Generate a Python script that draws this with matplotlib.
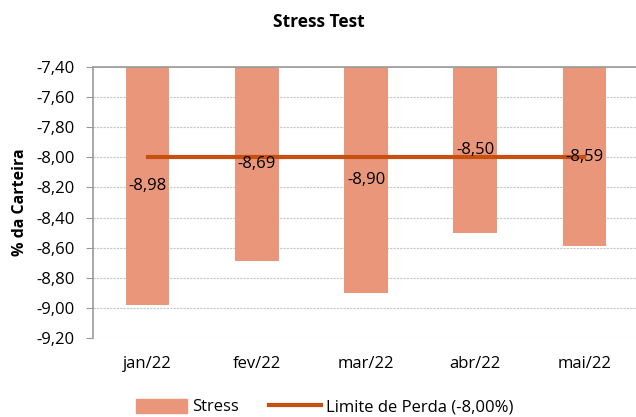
import matplotlib.pyplot as plt
from matplotlib.lines import Line2D
from matplotlib.patches import Patch

months = ['jan/22', 'fev/22', 'mar/22', 'abr/22', 'mai/22']
stress = [-8.98, -8.69, -8.90, -8.50, -8.59]
limite = [-8.00, -8.00, -8.00, -8.00, -8.00]
y_ticks = [-7.40, -7.60, -7.80, -8.00, -8.20, -8.40, -8.60, -8.80, -9.00, -9.20]

bar_color = '#EA967A'
line_color = '#C5500F'
font = 'Open Sans'


def fmt(v):
    return f'{v:.2f}'.replace('.', ',')


plt.rcParams['font.family'] = [font, 'DejaVu Sans']

fig = plt.figure(figsize=(6.36, 4.17), dpi=100)
ax = fig.add_axes([93 / 636, 1 - 338 / 417, 546 / 636, 271 / 417])

top = y_ticks[0]
x = list(range(len(months)))
ax.bar(x, [v - top for v in stress], bottom=top, width=0.4, color=bar_color, zorder=2)
ax.plot(x, limite, color=line_color, linewidth=3, zorder=3)

for i, v in enumerate(stress):
    ax.text(i, (v + top) / 2, fmt(v), ha='center', va='center', fontsize=12, color='black', zorder=4)

ax.set_xlim(-0.5, len(months) - 0.5)
ax.set_ylim(y_ticks[-1], y_ticks[0])
ax.set_yticks(y_ticks)
ax.set_yticklabels([fmt(v) for v in y_ticks], fontsize=12)
ax.set_xticks(x)
ax.set_xticklabels(months, fontsize=12)
ax.tick_params(axis='x', length=0, pad=13)
ax.tick_params(axis='y', length=5, color='#999999', pad=8)

ax.grid(axis='y', linestyle=(0, (2, 1)), color='#c8c8c8', linewidth=0.8, zorder=0)
for side in ['right', 'bottom']:
    ax.spines[side].set_visible(False)
ax.spines['left'].set_color('#999999')
ax.spines['top'].set_color('#999999')
ax.spines['left'].set_linewidth(1.2)
ax.spines['top'].set_linewidth(1.2)

ax.set_ylabel('% da Carteira', fontsize=11.5, fontweight='bold', labelpad=6)
fig.text(0.502, 1 - 22 / 417, 'Stress Test', ha='center', va='center', fontsize=12.5, fontweight='bold')

handles = [Patch(color=bar_color, label='Stress'),
           Line2D([], [], color=line_color, linewidth=3, label='Limite de Perda (-8,00%)')]
fig.legend(handles=handles, loc='center', bbox_to_anchor=(0.51, 1 - 407 / 417), ncol=2,
           frameon=False, fontsize=12, handlelength=3.1, handleheight=0.9, columnspacing=1.8, handletextpad=0.3)

fig.savefig('out.png', dpi=100)
